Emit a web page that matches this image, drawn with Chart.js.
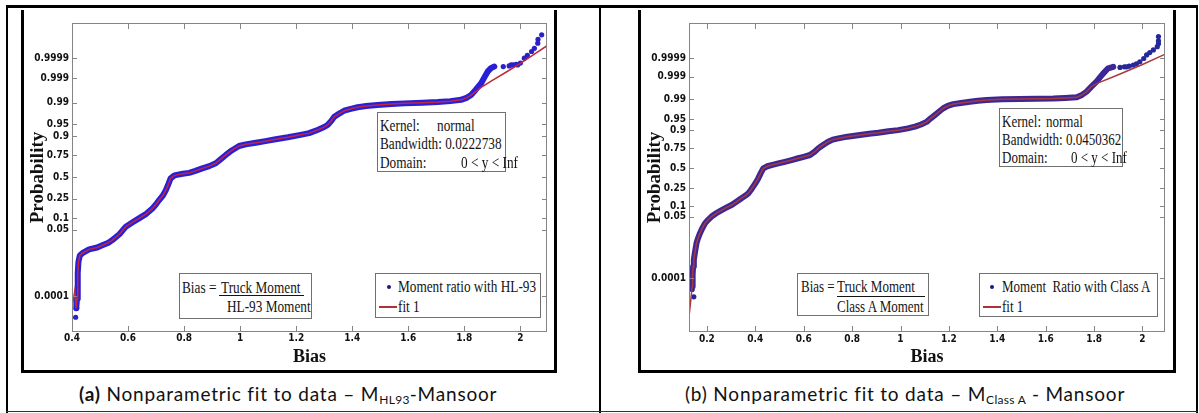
<!DOCTYPE html>
<html>
<head>
<meta charset="utf-8">
<script src="https://cdn.jsdelivr.net/npm/chart.js@4.4.1/dist/chart.umd.min.js"></script>
<style>
  html, body { margin:0; padding:0; background:#fff; }
  #page { position:relative; width:1199px; height:413px; overflow:hidden; background:#fff; }
  .ln { position:absolute; background:#000; }
  .frame { position:absolute; box-sizing:border-box; border:3px solid #000; border-top:none; }
  canvas.plot { position:absolute; }
  .box { position:absolute; box-sizing:border-box; border:1px solid #707070; background:#fff; z-index:2; }
  .t { position:absolute; font-family:'Liberation Serif','Times New Roman',serif; font-size:17px; line-height:17px; white-space:nowrap; color:#141414; transform-origin:0 50%; }
  .sa .t { transform:scaleX(0.78); }
  .sb .t { transform:scaleX(0.765); }
  .bar { position:absolute; height:1px; background:#141414; }
  .dot { position:absolute; width:4px; height:4px; border-radius:50%; background:#1a1a80; }
  .red { position:absolute; height:1.5px; background:#b03038; }
  .cap { position:absolute; font-family:Lato,'Open Sans',sans-serif; font-size:19px; letter-spacing:0.8px; line-height:20px; white-space:nowrap; color:#111; z-index:2; }
  .cap sub { font-size:12px; letter-spacing:0.3px; vertical-align:-3px; line-height:0; }
</style>
</head>
<body>
<div id="page">
  <!-- table lines -->
  <div class="ln" style="left:6px;top:5px;width:1192px;height:3px;"></div>
  <div class="ln" style="left:6px;top:5px;width:2px;height:408px;"></div>
  <div class="ln" style="left:599px;top:5px;width:2px;height:408px;"></div>
  <div class="ln" style="left:1196px;top:5px;width:2px;height:408px;"></div>
  <div class="ln" style="left:6px;top:411px;width:1192px;height:1px;background:#333;"></div>

  <!-- image frames -->
  <div class="frame" style="left:21px;top:10px;width:536px;height:363px;"></div>
  <div class="frame" style="left:638px;top:10px;width:538px;height:363px;"></div>

  <canvas id="chartA" class="plot" width="528" height="361" style="left:24px;top:10px;"></canvas>
  <canvas id="chartB" class="plot" width="532" height="361" style="left:641px;top:10px;"></canvas>

  <!-- panel (a) annotations -->
  <div class="box sa" style="left:377px;top:112px;width:129px;height:60px;">
    <span class="t" style="left:2px;top:4px;">Kernel:</span>
    <span class="t" style="left:59px;top:4px;">normal</span>
    <span class="t" style="left:2px;top:22px;">Bandwidth: 0.0222738</span>
    <span class="t" style="left:2px;top:41px;">Domain:</span>
    <span class="t" style="left:83px;top:41px;">0 &lt; y &lt; Inf</span>
  </div>
  <div class="box sa" style="left:179px;top:273px;width:133px;height:46px;">
    <span class="t" style="left:2px;top:5px;">Bias =</span>
    <span class="t" style="left:41px;top:5px;">Truck Moment</span>
    <div class="bar" style="left:39px;top:21px;width:85px;"></div>
    <span class="t" style="left:47px;top:24px;">HL-93 Moment</span>
  </div>
  <div class="box sa" style="left:375px;top:273px;width:166px;height:45px;">
    <div class="dot" style="left:11px;top:11px;"></div>
    <span class="t" style="left:22px;top:4px;">Moment ratio with HL-93</span>
    <div class="red" style="left:3px;top:32px;width:18px;"></div>
    <span class="t" style="left:22px;top:24px;">fit 1</span>
  </div>

  <!-- panel (b) annotations -->
  <div class="box sb" style="left:999px;top:108px;width:124px;height:59px;">
    <span class="t" style="left:2px;top:4px;">Kernel:</span>
    <span class="t" style="left:46px;top:4px;">normal</span>
    <span class="t" style="left:2px;top:22px;">Bandwidth: 0.0450362</span>
    <span class="t" style="left:2px;top:40px;">Domain:</span>
    <span class="t" style="left:71px;top:40px;">0 &lt; y &lt; Inf</span>
  </div>
  <div class="box sb" style="left:797px;top:273px;width:132px;height:43px;">
    <span class="t" style="left:3px;top:4px;">Bias =</span>
    <span class="t" style="left:39px;top:4px;">Truck Moment</span>
    <div class="bar" style="left:39px;top:22px;width:88px;"></div>
    <span class="t" style="left:39px;top:24px;">Class A Moment</span>
  </div>
  <div class="box sb" style="left:979px;top:273px;width:179px;height:44px;">
    <div class="dot" style="left:10px;top:11px;"></div>
    <span class="t" style="left:22px;top:4px;">Moment&nbsp; Ratio with Class A</span>
    <div class="red" style="left:3px;top:32px;width:18px;"></div>
    <span class="t" style="left:22px;top:24px;">fit 1</span>
  </div>

  <!-- captions -->
  <div class="cap" style="left:79px;top:384px;"><b>(a)</b> Nonparametric fit to data – M<sub>HL93</sub>-Mansoor</div>
  <div class="cap" style="left:685px;top:384px;">(b) Nonparametric fit to data – M<sub>Class A</sub> - Mansoor</div>
</div>

<script>
// ============================
// DATA (y values are normal scores of the probability axis)
// ============================
const probLabels = ["0.0001", "0.05", "0.1", "0.25", "0.5", "0.75", "0.9", "0.95", "0.99", "0.999", "0.9999"];
const probZ = [-3.719, -1.645, -1.2816, -0.6745, 0, 0.6745, 1.2816, 1.645, 2.326, 3.09, 3.719];

const xTicksA = [0.4, 0.6, 0.8, 1, 1.2, 1.4, 1.6, 1.8, 2];
const xTicksB = [0.2, 0.4, 0.6, 0.8, 1, 1.2, 1.4, 1.6, 1.8, 2];

// --- (a) Moment ratio with HL-93
const biasBodyA = [0.415, 0.418, 0.42, 0.421, 0.423, 0.428, 0.437, 0.461, 0.49, 0.508, 0.53, 0.544, 0.57, 0.592,
  0.615, 0.639, 0.665, 0.687, 0.70, 0.711, 0.725, 0.735, 0.745, 0.752, 0.762, 0.77, 0.795, 0.818, 0.84, 0.865,
  0.89, 0.913, 0.93, 0.949, 0.97, 0.996, 1.02, 1.056, 1.09, 1.127, 1.17, 1.211, 1.246, 1.276, 1.30, 1.312, 1.325,
  1.336, 1.355, 1.371, 1.395, 1.419, 1.45, 1.49, 1.54, 1.586, 1.65, 1.705, 1.75, 1.788, 1.81, 1.824, 1.84, 1.86,
  1.872, 1.883, 1.895, 1.907];
const zBodyA = [-4.1, -3.8, -3.4, -3.0, -2.65, -2.45, -2.38, -2.26, -2.2, -2.13, -2.05, -1.97, -1.78, -1.55,
  -1.42, -1.29, -1.15, -0.98, -0.85, -0.72, -0.57, -0.41, -0.2, -0.04, 0.03, 0.06, 0.10, 0.13, 0.19, 0.27,
  0.34, 0.43, 0.55, 0.69, 0.83, 0.97, 1.02, 1.07, 1.12, 1.18, 1.24, 1.31, 1.37, 1.47, 1.56, 1.625, 1.75,
  1.88, 1.99, 2.07, 2.13, 2.18, 2.22, 2.25, 2.28, 2.30, 2.32, 2.34, 2.37, 2.41, 2.48, 2.56, 2.72, 2.93,
  3.12, 3.29, 3.40, 3.45];
const biasDotsA = [0.413, 0.417, 1.939, 1.96, 1.967, 1.975, 1.985, 1.99, 2.0, 2.014, 2.025, 2.04, 2.05, 2.062, 2.063, 2.076];
const zDotsA = [-4.38, -4.1, 3.45, 3.47, 3.5, 3.5, 3.52, 3.5, 3.56, 3.71, 3.8, 3.92, 4.02, 4.18, 4.3, 4.44];
const biasFitHeadA = [0.399, 0.41];
const zFitHeadA = [-4.16, -3.55];
const fitSplitA = 1.824;
const biasFitTailA = [1.86, 1.9, 1.95, 2.0, 2.05, 2.095];
const zFitTailA = [2.8, 3.02, 3.28, 3.55, 3.84, 4.1];

// --- (b) Moment ratio with Class A
const biasBodyB = [0.139, 0.141, 0.143, 0.146, 0.15, 0.157, 0.163, 0.171, 0.18, 0.192, 0.205, 0.219, 0.24, 0.261,
  0.28, 0.302, 0.322, 0.343, 0.358, 0.371, 0.381, 0.391, 0.40, 0.412, 0.422, 0.433, 0.45, 0.467, 0.495, 0.522,
  0.55, 0.577, 0.60, 0.626, 0.645, 0.66, 0.68, 0.701, 0.72, 0.743, 0.78, 0.825, 0.87, 0.908, 0.95, 0.99, 1.03,
  1.06, 1.085, 1.108, 1.125, 1.142, 1.16, 1.177, 1.195, 1.218, 1.25, 1.287, 1.32, 1.356, 1.42, 1.493, 1.56,
  1.631, 1.68, 1.728, 1.75, 1.769, 1.79, 1.81, 1.825, 1.838, 1.858, 1.879];
const zBodyB = [-4.0, -3.6, -3.33, -3.1, -2.88, -2.54, -2.38, -2.21, -2.05, -1.87, -1.75, -1.64, -1.52, -1.42,
  -1.34, -1.25, -1.14, -1.02, -0.94, -0.855, -0.75, -0.63, -0.52, -0.35, -0.18, -0.01, 0.06, 0.10, 0.155, 0.21,
  0.27, 0.33, 0.38, 0.44, 0.55, 0.665, 0.78, 0.89, 0.96, 1.0, 1.06, 1.11, 1.16, 1.19, 1.24, 1.28, 1.34,
  1.40, 1.47, 1.56, 1.68, 1.79, 1.91, 2.02, 2.1, 2.16, 2.2, 2.24, 2.27, 2.30, 2.32, 2.33, 2.34,
  2.35, 2.37, 2.39, 2.47, 2.58, 2.76, 2.92, 3.07, 3.2, 3.37, 3.42];
const biasDotsB = [0.146, 0.139, 1.907, 1.925, 1.934, 1.945, 1.962, 1.975, 1.989, 2.005, 2.017, 2.03, 2.045, 2.061, 2.066, 2.066, 2.066];
const zDotsB = [-4.35, -4.1, 3.40, 3.42, 3.42, 3.44, 3.48, 3.52, 3.59, 3.7, 3.82, 3.9, 3.99, 4.1, 4.2, 4.3, 4.44];
const biasFitHeadB = [0.127, 0.133];
const zFitHeadB = [-4.95, -4.5];
const fitSplitB = 1.79;
const biasFitTailB = [1.81, 1.9, 2.0, 2.095];
const zFitTailB = [2.85, 3.15, 3.5, 3.85];

// ============================
// ESTILO
// ============================
const tickFont = { family: "'Liberation Sans Narrow','Arial Narrow','DejaVu Sans Condensed',sans-serif", size: 10, weight: "bold" };
const serif = "'Liberation Serif','Times New Roman',serif";

function pts(xs, ys) {
  return xs.map((x, i) => ({ x: x, y: ys[i] }));
}

// caja gris con marcas hacia dentro (estilo MATLAB)
const axesBox = {
  id: "axesBox",
  afterDraw(chart) {
    const { ctx, chartArea: a, scales } = chart;
    ctx.save();
    ctx.strokeStyle = "#858585";
    ctx.lineWidth = 1;
    ctx.strokeRect(a.left + 0.5, a.top + 0.5, a.right - a.left - 1, a.bottom - a.top - 1);
    ctx.beginPath();
    scales.x.ticks.forEach(t => {
      const p = Math.round(scales.x.getPixelForValue(t.value)) + 0.5;
      ctx.moveTo(p, a.bottom); ctx.lineTo(p, a.bottom - 6);
      ctx.moveTo(p, a.top); ctx.lineTo(p, a.top + 6);
    });
    scales.y.ticks.forEach(t => {
      const p = Math.round(scales.y.getPixelForValue(t.value)) + 0.5;
      ctx.moveTo(a.left, p); ctx.lineTo(a.left + 5, p);
      ctx.moveTo(a.right, p); ctx.lineTo(a.right - 5, p);
    });
    ctx.stroke();
    ctx.restore();
  }
};

function crearGrafico(id, c) {
  const body = pts(c.bodyX, c.bodyZ);
  const fit = pts(c.fitHeadX, c.fitHeadZ)
    .concat(body.filter(p => p.x <= c.fitSplit))
    .concat(pts(c.fitTailX, c.fitTailZ));

  return new Chart(document.getElementById(id), {
    type: "scatter",
    data: {
      datasets: [
        { label: "fit 1", data: fit, showLine: true, borderColor: c.red, borderWidth: 1.5, pointRadius: 0, order: 0 },
        { label: c.label, data: body, showLine: true, borderColor: c.blue, borderWidth: 6,
          borderCapStyle: "round", borderJoinStyle: "round", pointRadius: 0, order: 1 },
        { label: c.label, data: pts(c.dotsX, c.dotsZ), showLine: false, backgroundColor: c.dot,
          borderWidth: 0, pointRadius: 2.6, order: 2 }
      ]
    },
    options: {
      responsive: false,
      animation: false,
      devicePixelRatio: 1,
      layout: { padding: { top: 13, right: c.padRight, left: 0, bottom: 0 } },
      plugins: { legend: { display: false }, tooltip: { enabled: false } },
      scales: {
        x: {
          type: "linear", min: c.xMin, max: c.xMax,
          afterBuildTicks: s => { s.ticks = c.xTicks.map(v => ({ value: v })); },
          afterFit: s => { s.height = 39; },
          grid: { display: false, drawTicks: false },
          border: { display: false },
          ticks: { font: tickFont, color: "#111", padding: c.xPad, autoSkip: false, maxRotation: 0,
                   callback: v => String(v) },
          title: { display: true, text: "Bias", color: "#111",
                   font: { family: serif, size: 18, weight: "bold" }, padding: { top: 0, bottom: 3 } }
        },
        y: {
          type: "linear", min: c.zMin, max: c.zMax,
          afterBuildTicks: s => { s.ticks = probZ.map(v => ({ value: v })); },
          afterFit: s => { s.width = 48; },
          grid: { display: false, drawTicks: false },
          border: { display: false },
          ticks: { font: tickFont, color: "#111", padding: 3, autoSkip: false,
                   callback: (v, i) => probLabels[i] },
          title: { display: true, text: "Probability", color: "#111",
                   font: { family: serif, size: 19, weight: "bold" }, padding: { top: 3, bottom: 0 } }
        }
      }
    },
    plugins: [axesBox]
  });
}

// ============================
// INICIO
// ============================
crearGrafico("chartA", {
  label: "Moment ratio with HL-93",
  bodyX: biasBodyA, bodyZ: zBodyA, dotsX: biasDotsA, dotsZ: zDotsA,
  fitHeadX: biasFitHeadA, fitHeadZ: zFitHeadA, fitSplit: fitSplitA, fitTailX: biasFitTailA, fitTailZ: zFitTailA,
  xTicks: xTicksA, xMin: 0.4, xMax: 2.095, zMin: -4.84, zMax: 4.81, padRight: 5, xPad: 0,
  blue: "#2a1fd8", dot: "#2a22c8", red: "#c0283c"
});

crearGrafico("chartB", {
  label: "Moment  Ratio with Class A",
  bodyX: biasBodyB, bodyZ: zBodyB, dotsX: biasDotsB, dotsZ: zDotsB,
  fitHeadX: biasFitHeadB, fitHeadZ: zFitHeadB, fitSplit: fitSplitB, fitTailX: biasFitTailB, fitTailZ: zFitTailB,
  xTicks: xTicksB, xMin: 0.126, xMax: 2.093, zMin: -5.54, zMax: 4.9, padRight: 8, xPad: 1,
  blue: "#3d2796", dot: "#26289a", red: "#a83a3a"
});
</script>
</body>
</html>
